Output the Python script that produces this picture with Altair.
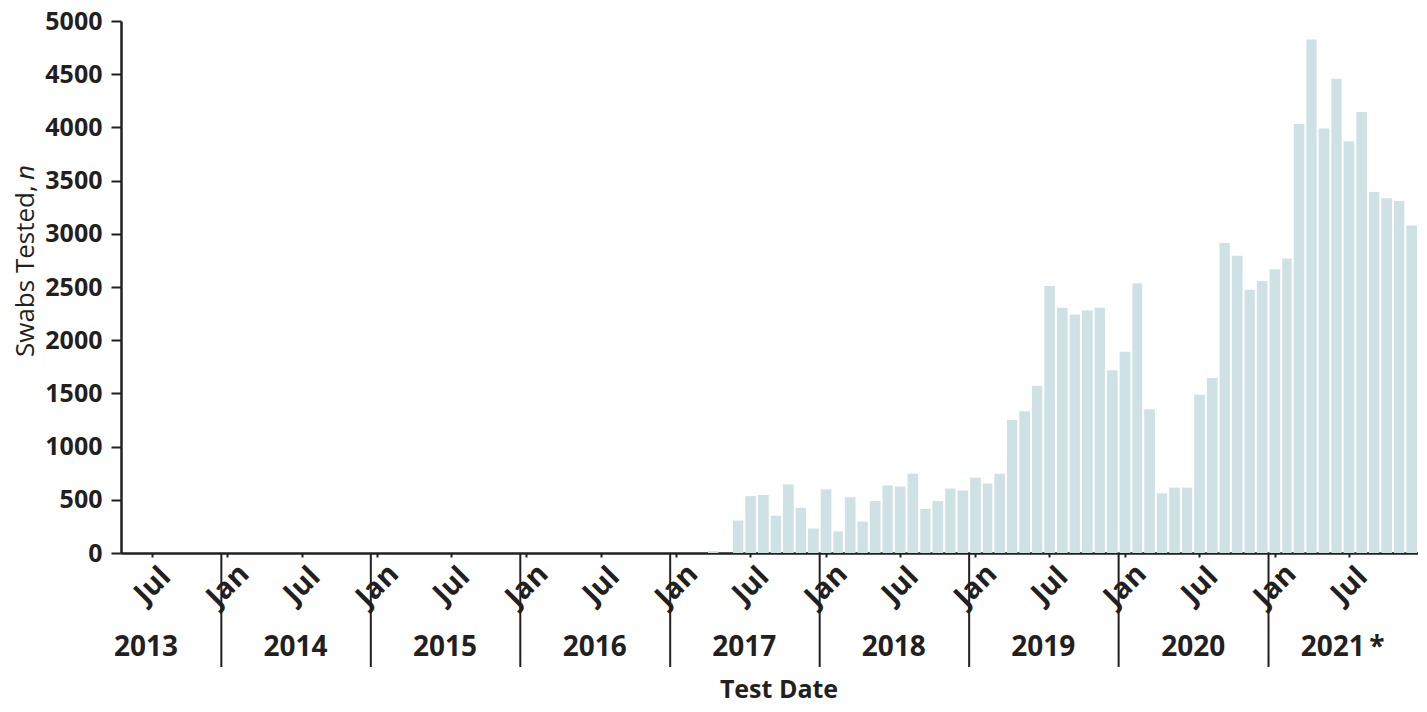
import altair as alt
import pandas as pd

# Monthly swabs tested, April 2017 .. December 2021 (earlier months: none)
first_month = "2017-04-01"
swabs = [
    18, 0, 305, 535, 545, 350, 645, 425, 230,                                # 2017 Apr-Dec
    598, 203, 525, 295, 488, 635, 625, 745, 413, 488, 606, 588,              # 2018
    708, 653, 745, 1250, 1333, 1571, 2510, 2306, 2242, 2279, 2306, 1718,     # 2019
    1891, 2536, 1350, 561, 615, 615, 1487, 1644, 2914, 2794, 2473, 2556,     # 2020
    2667, 2767, 4033, 4825, 3990, 4458, 3870, 4144, 3392, 3335, 3308, 3078,  # 2021
]

axis_years = [2013, 2014, 2015, 2016, 2017, 2018, 2019, 2020, 2021]
year_labels = ["2013", "2014", "2015", "2016", "2017", "2018", "2019", "2020", "2021\u2009*"]
separator_years = [2014, 2015, 2016, 2017, 2018, 2019, 2020, 2021]
y_ticks = [0, 500, 1000, 1500, 2000, 2500, 3000, 3500, 4000, 4500, 5000]

starts = pd.date_range(first_month, periods=len(swabs), freq="MS")
ends = starts + pd.offsets.MonthBegin(1)
bars_df = pd.DataFrame({
    "start": starts.strftime("%Y-%m-%d"),
    "end": ends.strftime("%Y-%m-%d"),
    "swabs": swabs,
})
years_df = pd.DataFrame({
    "date": [f"{y}-07-01" for y in axis_years],
    "label": year_labels,
})
sep_df = pd.DataFrame({"date": [f"{y}-01-01" for y in separator_years]})

INK = "#231f20"
BAR = "#cee2e5"
FONT = "Open Sans"
W, H = 1297, 532

xscale = alt.Scale(
    type="utc",
    domain=[alt.DateTime(year=2013, month=5, date=1, utc=True),
            alt.DateTime(year=2022, month=1, date=1, utc=True)],
)

tick_values = []
for y in axis_years:
    if y > 2013:
        tick_values.append(alt.DateTime(year=y, month=1, date=16, utc=True))
    tick_values.append(alt.DateTime(year=y, month=7, date=16, utc=True))

bars = alt.Chart(bars_df).mark_bar(color=BAR, xOffset=1, x2Offset=-1).encode(
    x=alt.X("start:T", scale=xscale, title=None,
            axis=alt.Axis(values=tick_values, format="%b", labelAngle=-45,
                          labelAlign="center", labelBaseline="middle",
                          labelPadding=28, tickSize=4, tickWidth=2,
                          domainWidth=2.5, grid=False, labelFontSize=29,
                          labelFontWeight="bold", labelOverlap=False,
                          labelFlush=False, title=None)),
    x2="end:T",
    y=alt.Y("swabs:Q", scale=alt.Scale(domain=[0, 5000], nice=False),
            title=None,
            axis=alt.Axis(values=y_ticks, format="d", tickSize=10, tickWidth=2,
                          domainWidth=2.5, grid=False, labelFontSize=25,
                          labelFontWeight="bold", labelPadding=9,
                          labelOverlap=False, labelFlush=False)),
    y2=alt.datum(0),
)

separators = alt.Chart(sep_df).mark_rule(color=INK, strokeWidth=2).encode(
    x=alt.X("date:T", scale=xscale, title=None),
    y=alt.value(H),
    y2=alt.value(H + 114),
)

year_text = alt.Chart(years_df).mark_text(
    font=FONT, fontSize=28, fontWeight="bold", color=INK,
    align="center", baseline="middle",
).encode(
    x=alt.X("date:T", scale=xscale, title=None),
    y=alt.value(H + 95),
    text="label:N",
)

x_title = alt.Chart(pd.DataFrame({"t": ["Test Date"]})).mark_text(
    font=FONT, fontSize=25, fontWeight="bold", color=INK,
    align="center", baseline="middle",
).encode(x=alt.value(658), y=alt.value(H + 137), text="t:N")

y_title_main = alt.Chart(pd.DataFrame({"t": ["Swabs Tested,"]})).mark_text(
    font=FONT, fontSize=26, color=INK, angle=270,
    align="left", baseline="middle",
).encode(x=alt.value(-95), y=alt.value(336), text="t:N")

y_title_n = alt.Chart(pd.DataFrame({"t": ["n"]})).mark_text(
    font=FONT, fontSize=26, fontStyle="italic", color=INK, angle=270,
    align="left", baseline="middle",
).encode(x=alt.value(-95), y=alt.value(159), text="t:N")

chart = alt.layer(
    bars, separators, year_text, x_title, y_title_main, y_title_n
).properties(
    width=W, height=H,
    autosize=alt.AutoSizeParams(type="none"),
    padding={"left": 113, "top": 13, "right": 0, "bottom": 151},
    background="white",
).configure_view(
    stroke=None
).configure_axis(
    labelFont=FONT, labelColor=INK, domainColor=INK, tickColor=INK,
)

chart.save("out.html", embed_options={"renderer": "svg", "actions": False})
